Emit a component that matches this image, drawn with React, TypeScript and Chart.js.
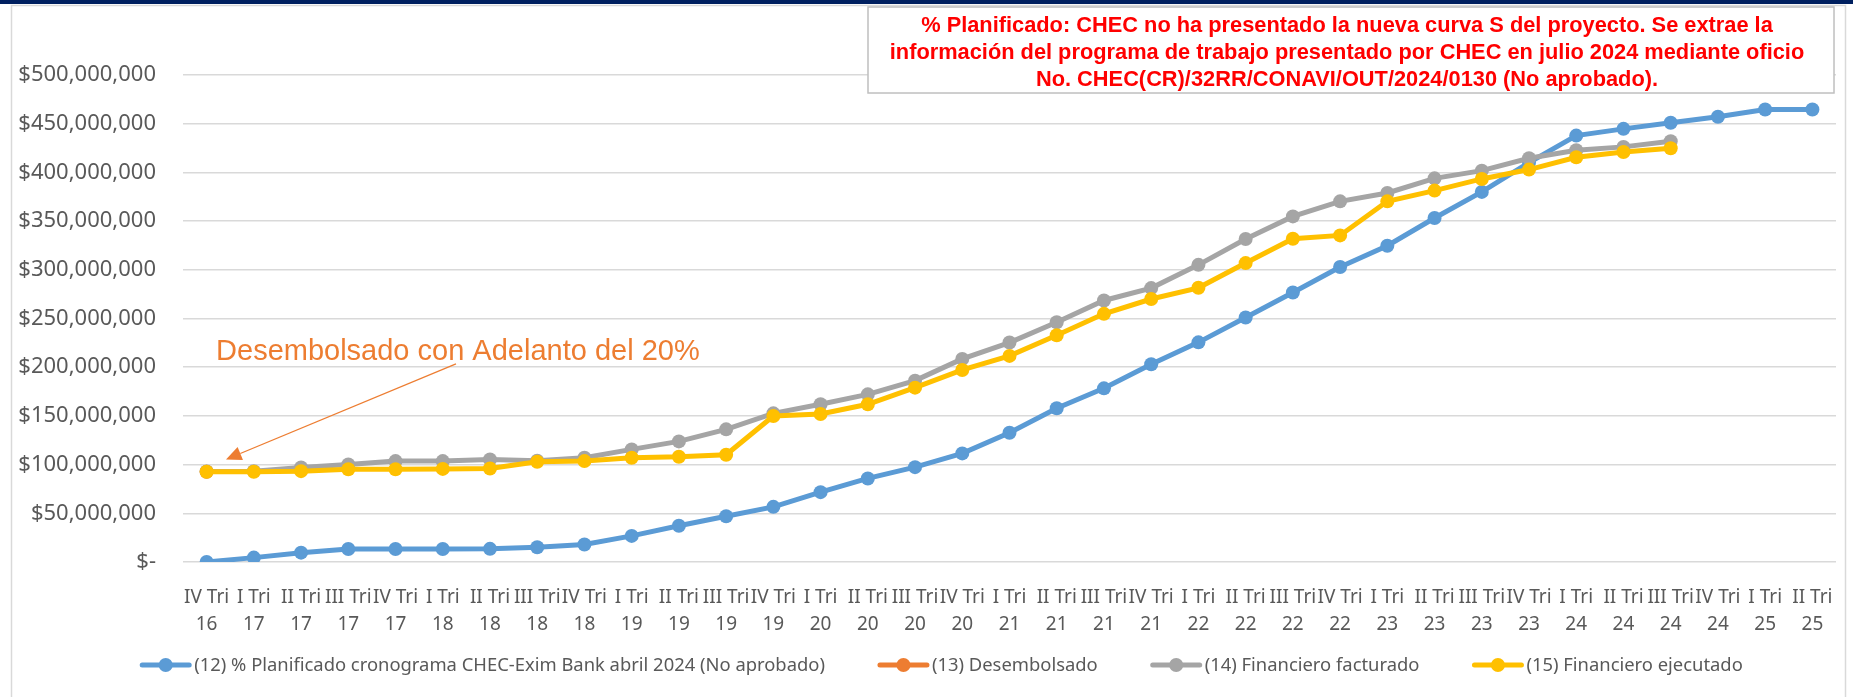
import React, { useEffect, useRef } from "react";
import { Chart, registerables } from "chart.js";

Chart.register(...registerables);

// ---------- DATA ----------
const quarterLabels = [
  "IV Tri",
  "I Tri", "II Tri", "III Tri", "IV Tri",
  "I Tri", "II Tri", "III Tri", "IV Tri",
  "I Tri", "II Tri", "III Tri", "IV Tri",
  "I Tri", "II Tri", "III Tri", "IV Tri",
  "I Tri", "II Tri", "III Tri", "IV Tri",
  "I Tri", "II Tri", "III Tri", "IV Tri",
  "I Tri", "II Tri", "III Tri", "IV Tri",
  "I Tri", "II Tri", "III Tri", "IV Tri",
  "I Tri", "II Tri",
];
const yearLabels = [
  "16",
  "17", "17", "17", "17",
  "18", "18", "18", "18",
  "19", "19", "19", "19",
  "20", "20", "20", "20",
  "21", "21", "21", "21",
  "22", "22", "22", "22",
  "23", "23", "23", "23",
  "24", "24", "24", "24",
  "25", "25",
];

// values in millions of dollars
const planificado = [
  0, 4.5, 9.6, 13.4, 13.4, 13.4, 13.5, 15.1, 17.9, 26.8, 37.2, 47, 56.6, 71.7, 85.8, 97.4, 111.5,
  132.7, 157.8, 178.3, 203, 225.5, 251, 276.7, 302.8, 324.7, 353.2, 380, 410, 437.8, 444.7, 450.9,
  457.1, 464.6, 464.6,
];
const desembolsado = [
  92.6, null, null, null, null, null, null, null, null, null, null, null, null, null, null, null, null,
  null, null, null, null, null, null, null, null, null, null, null, null, null, null, null, null, null, null,
];
const facturado = [
  93, 93.3, 97, 100.2, 103.6, 103.6, 105.3, 104, 107, 115.6, 123.8, 136.2, 152.6, 161.9, 172.1, 186.2,
  208.5, 225.3, 246.2, 268.5, 281.2, 305.1, 331.6, 354.8, 370.3, 378.9, 393.9, 401.8, 414.5, 422.7,
  426.2, 432, null, null, null,
];
const ejecutado = [
  92.6, 92.6, 93.3, 95.3, 95.3, 95.6, 96, 102.9, 103.6, 107, 108, 110.1, 149.9, 151.9, 161.9, 179,
  197.2, 211.6, 232.8, 254.8, 270, 281.5, 306.9, 331.9, 335.3, 370.3, 381.3, 393.3, 402.9, 415.5, 421,
  424.8, null, null, null,
];

const seriesNames = [
  "(12) % Planificado cronograma CHEC-Exim Bank abril 2024 (No aprobado)",
  "(13) Desembolsado",
  "(14) Financiero facturado",
  "(15) Financiero ejecutado",
];
const seriesColors = ["#5B9BD5", "#ED7D31", "#A5A5A5", "#FFC000"];

const noteLines = [
  "% Planificado: CHEC no ha presentado la nueva curva S del proyecto. Se extrae la",
  "información del programa de trabajo presentado por CHEC en julio 2024 mediante oficio",
  "No. CHEC(CR)/32RR/CONAVI/OUT/2024/0130 (No aprobado).",
];
const arrowNote = "Desembolsado con Adelanto del 20%";

const MILLION = 1e6;
const W = 1853;
const H = 697;

const fmtMoney = (v: number) =>
  v === 0 ? "$-" : "$" + Math.round(v).toLocaleString("en-US");

export default function App() {
  const ref = useRef<HTMLCanvasElement | null>(null);

  useEffect(() => {
    const canvas = ref.current;
    if (!canvas) return;

    const framePlugin = {
      id: "frame",
      beforeDraw(chart: any) {
        const ctx = chart.ctx;
        ctx.save();
        ctx.fillStyle = "#ffffff";
        ctx.fillRect(0, 0, W, H);
        ctx.fillStyle = "#002060";
        ctx.fillRect(0, 0, W, 4);
        ctx.strokeStyle = "#d9d9d9";
        ctx.lineWidth = 1.5;
        ctx.beginPath();
        ctx.moveTo(11.5, H);
        ctx.lineTo(11.5, 5.5);
        ctx.lineTo(1845.5, 5.5);
        ctx.lineTo(1845.5, H);
        ctx.stroke();
        ctx.restore();
      },
    };

    const notesPlugin = {
      id: "notes",
      afterDraw(chart: any) {
        const { ctx } = chart;
        const xs = chart.scales.x;
        const ys = chart.scales.y;
        ctx.save();

        // orange annotation + arrow
        ctx.fillStyle = "#ED7D31";
        ctx.strokeStyle = "#ED7D31";
        ctx.font = "29px 'Liberation Sans'";
        ctx.textAlign = "left";
        ctx.textBaseline = "alphabetic";
        ctx.fillText(arrowNote, xs.getPixelForValue(0.2), ys.getPixelForValue(207.4 * MILLION));

        const x0 = xs.getPixelForValue(5.28);
        const y0 = ys.getPixelForValue(203.4 * MILLION);
        const x1 = xs.getPixelForValue(0.41);
        const y1 = ys.getPixelForValue(105.3 * MILLION);
        const ang = Math.atan2(y1 - y0, x1 - x0);
        const hl = 15.5;
        const hw = 7;
        const bx = x1 - hl * Math.cos(ang);
        const by = y1 - hl * Math.sin(ang);
        ctx.lineWidth = 1.3;
        ctx.beginPath();
        ctx.moveTo(x0, y0);
        ctx.lineTo(bx, by);
        ctx.stroke();
        ctx.beginPath();
        ctx.moveTo(x1, y1);
        ctx.lineTo(bx + hw * Math.sin(ang), by - hw * Math.cos(ang));
        ctx.lineTo(bx - hw * Math.sin(ang), by + hw * Math.cos(ang));
        ctx.closePath();
        ctx.fill();

        // red note box
        const bxL = 868, bxT = 7, bxR = 1834, bxB = 93;
        ctx.fillStyle = "#ffffff";
        ctx.fillRect(bxL, bxT, bxR - bxL, bxB - bxT);
        ctx.strokeStyle = "#bfbfbf";
        ctx.lineWidth = 1.5;
        ctx.strokeRect(bxL, bxT, bxR - bxL, bxB - bxT);
        ctx.fillStyle = "#FF0000";
        ctx.font = "bold 21.8px 'Liberation Sans'";
        ctx.textAlign = "center";
        const cx = (bxL + bxR) / 2 - 4;
        noteLines.forEach((t, i) => ctx.fillText(t, cx, 32 + i * 27));

        // legend
        ctx.font = "18.4px 'Noto Sans'";
        ctx.textAlign = "left";
        ctx.textBaseline = "middle";
        const sampleW = 51;
        const textGap = 3;
        const itemGap = 53;
        const widths = seriesNames.map((n) => ctx.measureText(n).width);
        const total =
          widths.reduce((a, b) => a + b, 0) + seriesNames.length * (sampleW + textGap) + itemGap * (seriesNames.length - 1);
        let lx = 941.5 - total / 2;
        const ly = 665;
        seriesNames.forEach((n, i) => {
          const c = seriesColors[i];
          ctx.strokeStyle = c;
          ctx.fillStyle = c;
          ctx.lineWidth = 5;
          ctx.lineCap = "round";
          ctx.beginPath();
          ctx.moveTo(lx + 2, ly);
          ctx.lineTo(lx + sampleW - 2, ly);
          ctx.stroke();
          ctx.beginPath();
          ctx.arc(lx + sampleW / 2, ly, 7, 0, Math.PI * 2);
          ctx.fill();
          ctx.fillStyle = "#595959";
          ctx.fillText(n, lx + sampleW + textGap, ly + 1);
          lx += sampleW + textGap + widths[i] + itemGap;
        });
        ctx.restore();
      },
    };

    const labels = quarterLabels.map((q, i) => [q, yearLabels[i]]);
    const series = [planificado, desembolsado, facturado, ejecutado];
    const orders = [3, 2, 1, 0];

    const chart = new Chart(canvas, {
      type: "line",
      data: {
        labels,
        datasets: series.map((d, i) => ({
          label: seriesNames[i],
          data: d.map((v) => (v === null ? null : v * MILLION)),
          borderColor: seriesColors[i],
          backgroundColor: seriesColors[i],
          pointBackgroundColor: seriesColors[i],
          pointBorderColor: seriesColors[i],
          borderWidth: 5,
          pointRadius: 7,
          pointBorderWidth: 0,
          tension: 0,
          fill: false,
          order: orders[i],
        })),
      },
      options: {
        responsive: false,
        maintainAspectRatio: false,
        animation: false,
        devicePixelRatio: 1,
        layout: { padding: { left: 0, right: 17, top: 75, bottom: 67 } },
        plugins: {
          legend: { display: false },
          tooltip: { enabled: false },
          title: { display: false },
        },
        scales: {
          x: {
            type: "category",
            offset: true,
            grid: { display: false },
            border: { display: false },
            ticks: {
              autoSkip: false,
              maxRotation: 0,
              minRotation: 0,
              padding: 14,
              color: "#595959",
              font: { family: "'Noto Sans'", size: 19, lineHeight: 1.42 },
            },
            afterFit(scale: any) {
              scale.height = 68;
            },
          },
          y: {
            min: 0,
            max: 500 * MILLION,
            grid: { color: "#d9d9d9", lineWidth: 1.5, drawTicks: false },
            border: { display: false },
            ticks: {
              stepSize: 50 * MILLION,
              padding: 27,
              color: "#595959",
              font: { family: "'Noto Sans'", size: 22 },
              callback: (v: any) => fmtMoney(Number(v)),
            },
            afterFit(scale: any) {
              scale.width = 183;
            },
          },
        },
      },
      plugins: [framePlugin, notesPlugin],
    });

    return () => chart.destroy();
  }, []);

  return (
    <div style={{ position: "absolute", left: 0, top: 0, width: W, height: H, background: "#fff" }}>
      <canvas ref={ref} width={W} height={H} style={{ width: W, height: H, display: "block" }} />
    </div>
  );
}
